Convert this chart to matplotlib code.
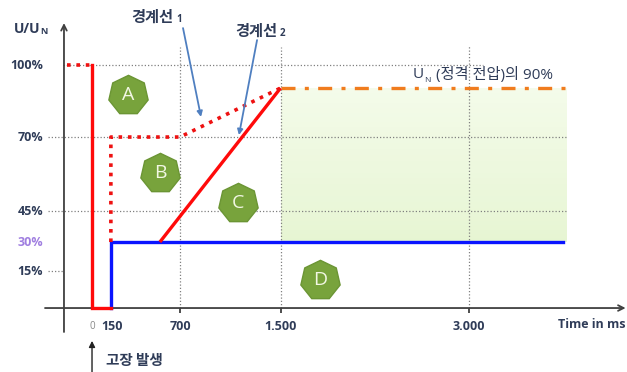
import numpy as np
import matplotlib
matplotlib.use('Agg')
import matplotlib.pyplot as plt

plt.rcParams['font.family'] = ['Open Sans', 'Noto Sans CJK KR', 'DejaVu Sans']

# ---------------- data ----------------
fault_x = [0, 0, 150]            # red solid: voltage drops at fault
fault_y = [100, 0, 0]
pre_x = [-200, 0]                # red dotted before fault
pre_y = [100, 100]
lim1_x = [150, 150, 700, 1500]   # boundary line 1 (dotted)
lim1_y = [30, 70, 70, 90]
lim2_x = [540, 1500]             # boundary line 2 (solid)
lim2_y = [30, 90]
blue_x = [150, 150, 3750]        # lower limit
blue_y = [0, 30, 30]
un90_x = [1500, 3780]            # 90 % of U_N
un90_y = [90, 90]
green_x = [1500, 3780]
green_lo = 30
green_hi = 90

y_ticks = [100, 70, 45, 30, 15]
y_labels = ['100%', '70%', '45%', '30%', '15%']
x_ticks = [0, 150, 700, 1500, 3000]
x_labels = ['0', '150', '700', '1.500', '3.000']

regions = ['A', 'B', 'C', 'D']
region_x = [286, 541, 1161, 1814]
region_y = [87, 58, 47.7, 11.4]

# ---------------- scale (non-uniform y axis as in original) ----------------
_vals = np.array([-60, 0, 15, 30, 45, 70, 90, 100, 160], dtype=float)
_px = np.array([308 + 60 * 2.47, 308, 271, 242, 211, 137, 88, 65, 65 - 60 * 2.4])


def fwd(v):
    return -np.interp(v, _vals, _px)


def inv(y):
    return np.interp(y, -_px, _vals)


fig = plt.figure(figsize=(6.27, 3.72), dpi=100)
ax = fig.add_axes([0, 0, 1, 1])
ax.set_yscale('function', functions=(fwd, inv))
ax.set_xlim(-732, 4256)
ax.set_ylim(-25.9, 127.1)
ax.axis('off')

W, H = 627.0, 372.0


def P(x, y):
    return (x / W, 1 - y / H)


navy = '#2f3c58'
grid_kw = dict(color='#808080', lw=0.9, linestyle=(0, (1, 1.6)), zorder=2)

# green area (soft vertical gradient)
top_c = np.array([0xf4, 0xfb, 0xea]) / 255.0
bot_c = np.array([0xe6, 0xf5, 0xd2]) / 255.0
nb = 30
edges = np.linspace(green_lo, green_hi, nb + 1)
for i in range(nb):
    f = (i + 0.5) / nb
    c = bot_c * (1 - f) + top_c * f
    ax.fill_between(green_x, edges[i], edges[i + 1] + 0.05, color=c, lw=0, zorder=1)

# grid
ax.hlines(100, -231, 3110, **grid_kw)
ax.hlines([70, 45], -350, 3787, **grid_kw)
ax.hlines(15, -350, -223, **grid_kw)
ax.vlines([700, 1500], 0, 107.5, **grid_kw)
ax.vlines(3000, 0, 108.3, **grid_kw)

# axes
ax.annotate('', xy=(-223, 117.5), xytext=(-223, -9.7),
            arrowprops=dict(arrowstyle='->', color='#404040', lw=1.3, shrinkA=0, shrinkB=0), zorder=3)
ax.annotate('', xy=(4245, 0), xytext=(-374, 0),
            arrowprops=dict(arrowstyle='->', color='#404040', lw=1.3, shrinkA=0, shrinkB=0), zorder=3)
ax.vlines([700, 1500, 3000], -2.2, 0, color='#404040', lw=1.3, zorder=3)

# lines
ax.plot(un90_x, un90_y, color='#f07c1e', lw=2.4, linestyle=(0, (4.2, 2.8, 1.2, 2.8)), zorder=4)
ax.plot(blue_x, blue_y, color='#0a14ff', lw=2.4, zorder=5, solid_joinstyle='miter')
ax.plot(lim2_x, lim2_y, color='#ff0a0a', lw=2.4, zorder=5, solid_capstyle='butt')
ax.plot(lim1_x, lim1_y, color='#ee1111', lw=2.6, linestyle=(0, (1, 1.6)), zorder=5)
ax.plot(pre_x, pre_y, color='#ee1111', lw=2.6, linestyle=(0, (1, 1.6)), zorder=5)
ax.plot(fault_x, fault_y, color='#ff0a0a', lw=2.4, zorder=6, solid_joinstyle='miter')

# region markers
for lab, rx, ry in zip(regions, region_x, region_y):
    ax.plot(rx, ry, marker=(7, 0, 0), ms=29, mfc='#78a33c', mec='#6b9534', mew=1, zorder=7)
    ax.text(rx, ry, lab, ha='center', va='center', fontsize=14, color='#f2f7e4',
            fontfamily='Open Sans', zorder=8)

# y tick labels
for t, lab in zip(y_ticks, y_labels):
    col = '#a07fe0' if t == 30 else navy
    ax.text(-390, t, lab, ha='right', va='center', fontsize=9, fontweight='bold', color=col)

# x tick labels
for t, lab in zip(x_ticks, x_labels):
    if t == 0:
        ax.text(t, -7.3, lab, ha='center', va='center', fontsize=7, color='#888888')
    else:
        ax.text(t + (12 if t == 150 else 0), -7.3, lab, ha='center', va='center',
                fontsize=9, fontweight='bold', color=navy)

fig.text(*P(558, 325), 'Time in ms', ha='left', va='center', fontsize=9, fontweight='bold', color=navy)
fig.text(*P(14, 29), 'U/U', ha='left', va='center', fontsize=10, fontweight='bold', color=navy)
fig.text(*P(40, 32), 'N', ha='left', va='center', fontsize=6.5, fontweight='bold', color=navy)

# fault annotation
ax.annotate('', xy=(0, -13.3), xytext=(0, -25.9),
            arrowprops=dict(arrowstyle='-|>', color='#222222', lw=1.0, mutation_scale=9,
                            shrinkA=0, shrinkB=0))
fig.text(*P(106, 360), '고장 발생', ha='left', va='center', fontsize=10.5, fontweight='bold',
         color=navy, fontfamily='Noto Sans CJK KR')

# boundary labels and arrows
fig.text(*P(131, 17), '경계선', ha='left', va='center', fontsize=11, fontweight='bold',
         color=navy, fontfamily='Noto Sans CJK KR')
fig.text(*P(176, 19), '1', ha='left', va='center', fontsize=7, fontweight='bold', color=navy)
fig.text(*P(235, 31), '경계선', ha='left', va='center', fontsize=11, fontweight='bold',
         color=navy, fontfamily='Noto Sans CJK KR')
fig.text(*P(280, 33), '2', ha='left', va='center', fontsize=7, fontweight='bold', color=navy)

arrow_kw = dict(arrowstyle='-|>', color='#4f7fc0', lw=1.3, mutation_scale=8, shrinkA=0, shrinkB=0)
ax.annotate('', xy=(867, 78.2), xytext=(724, 115.4), arrowprops=arrow_kw, zorder=9)
ax.annotate('', xy=(1169, 70.8), xytext=(1313, 110.4), arrowprops=arrow_kw, zorder=9)

# U_N 90% label
fig.text(*P(413, 75), 'U', ha='left', va='center', fontsize=11, color=navy)
fig.text(*P(424.5, 80), 'N', ha='left', va='center', fontsize=6, color=navy)
fig.text(*P(436, 75), '(정격 전압)의 90%', ha='left', va='center', fontsize=11, color=navy)

fig.savefig('out.png', dpi=100)
